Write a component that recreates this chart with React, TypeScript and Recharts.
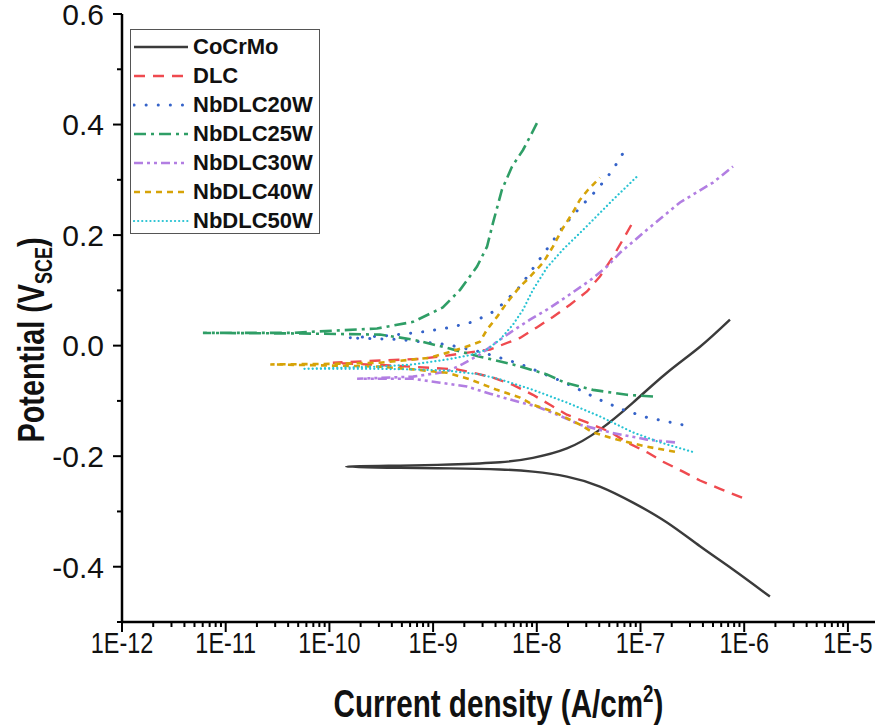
import { LineChart, Line, XAxis, YAxis, Legend } from 'recharts';

// Tafel polarisation curves: each array runs cathodic end -> Ecorr -> anodic end
const cocrmoCurrent = [1.77e-6, 7.8e-7, 3.75e-7, 1.8e-7, 8.47e-8, 4.06e-8, 1.95e-8, 9.18e-9, 4.42e-9, 1.46e-9, 4.8e-10, 1.45e-10, 4.8e-10, 1.46e-9, 4.42e-9, 9.18e-9, 1.95e-8, 4.06e-8, 8.47e-8, 1.8e-7, 3.75e-7, 7.29e-7];
const cocrmoPotential = [-0.454, -0.405, -0.363, -0.32, -0.284, -0.255, -0.237, -0.228, -0.224, -0.222, -0.221, -0.219, -0.217, -0.215, -0.211, -0.203, -0.186, -0.152, -0.103, -0.049, -0.002, 0.047];

const dlcCurrent = [9.53e-7, 5.85e-7, 3.75e-7, 2.57e-7, 1.65e-7, 1.16e-7, 7.41e-8, 5.08e-8, 3.05e-8, 1.95e-8, 1.34e-8, 9.18e-9, 5.89e-9, 3.78e-9, 2.43e-9, 1.7e-9, 9.33e-10, 3.84e-10, 1.08e-10, 3.08e-10, 7.48e-10, 1.36e-9, 3.54e-9, 6.89e-9, 1.0e-8, 1.43e-8, 2.09e-8, 3.05e-8, 4.06e-8, 5.43e-8, 6.78e-8, 8.47e-8];
const dlcPotential = [-0.275, -0.259, -0.244, -0.228, -0.21, -0.193, -0.175, -0.156, -0.139, -0.125, -0.107, -0.089, -0.071, -0.058, -0.049, -0.043, -0.04, -0.036, -0.031, -0.027, -0.024, -0.018, -0.007, 0.014, 0.033, 0.052, 0.074, 0.098, 0.125, 0.161, 0.192, 0.224];

const nb20Current = [2.51e-7, 1.16e-7, 6.78e-8, 4.06e-8, 1.87e-8, 6.89e-9, 2.83e-9, 1.36e-9, 4.8e-10, 1.51e-10, 3.59e-10, 8.0e-10, 1.46e-9, 2.43e-9, 3.78e-9, 4.72e-9, 6.89e-9, 8.59e-9, 1.15e-8, 1.79e-8, 2.61e-8, 3.8e-8, 5.31e-8, 6.93e-8];
const nb20Potential = [-0.143, -0.13, -0.116, -0.098, -0.067, -0.033, -0.011, 0.002, 0.011, 0.014, 0.018, 0.025, 0.033, 0.043, 0.061, 0.076, 0.107, 0.132, 0.165, 0.215, 0.25, 0.282, 0.316, 0.351];

const nb25Current = [1.32e-7, 7.41e-8, 3.48e-8, 1.87e-8, 1.25e-8, 5.89e-9, 2.83e-9, 1.36e-9, 6.4e-10, 3.08e-10, 5.25e-11, 6.03e-12, 4.17e-11, 2.88e-10, 6.4e-10, 1.24e-9, 1.82e-9, 2.65e-9, 3.31e-9, 3.78e-9, 4.61e-9, 5.77e-9, 7.36e-9, 8.99e-9, 1.03e-8];
const nb25Potential = [-0.092, -0.089, -0.08, -0.067, -0.052, -0.034, -0.02, -0.004, 0.011, 0.02, 0.022, 0.023, 0.023, 0.031, 0.043, 0.069, 0.101, 0.143, 0.179, 0.222, 0.282, 0.324, 0.354, 0.385, 0.407];

const nb30Current = [2.15e-7, 1.16e-7, 5.08e-8, 2.61e-8, 1.67e-8, 1.0e-8, 5.89e-9, 3.54e-9, 2.12e-9, 1.17e-9, 6.4e-10, 3.08e-10, 1.85e-10, 6.4e-10, 1.36e-9, 1.94e-9, 2.83e-9, 4.13e-9, 5.89e-9, 8.59e-9, 1.25e-8, 1.95e-8, 3.26e-8, 4.75e-8, 6.34e-8, 1.16e-7, 2.4e-7, 5.0e-7, 7.8e-7];
const nb30Potential = [-0.175, -0.17, -0.157, -0.143, -0.127, -0.11, -0.099, -0.087, -0.074, -0.067, -0.06, -0.06, -0.06, -0.056, -0.047, -0.033, -0.016, 0.007, 0.027, 0.047, 0.065, 0.089, 0.118, 0.143, 0.168, 0.21, 0.259, 0.295, 0.324];

const nb40Current = [2.15e-7, 1.16e-7, 5.93e-8, 3.48e-8, 2.61e-8, 1.43e-8, 9.18e-9, 6.89e-9, 4.13e-9, 2.27e-9, 1.36e-9, 6.4e-10, 3.08e-10, 1.01e-10, 2.69e-11, 1.01e-10, 3.08e-10, 9.33e-10, 1.94e-9, 2.83e-9, 3.31e-9, 4.13e-9, 5.16e-9, 6.89e-9, 8.04e-9, 1.15e-8, 1.43e-8, 1.75e-8, 2.23e-8, 2.61e-8, 3.12e-8, 4.06e-8];
const nb40Potential = [-0.192, -0.183, -0.17, -0.157, -0.143, -0.119, -0.107, -0.094, -0.08, -0.061, -0.049, -0.043, -0.038, -0.036, -0.034, -0.033, -0.031, -0.022, -0.004, 0.007, 0.029, 0.052, 0.078, 0.107, 0.119, 0.15, 0.179, 0.21, 0.241, 0.264, 0.282, 0.304];

const nb50Current = [3.14e-7, 1.54e-7, 8.47e-8, 4.06e-8, 1.95e-8, 9.18e-9, 4.42e-9, 2.83e-9, 1.36e-9, 6.4e-10, 3.08e-10, 5.5e-11, 3.08e-10, 6.4e-10, 1.36e-9, 2.43e-9, 3.31e-9, 4.42e-9, 5.89e-9, 7.36e-9, 9.18e-9, 1.25e-8, 1.79e-8, 2.61e-8, 3.26e-8, 5.43e-8, 9.25e-8];
const nb50Potential = [-0.192, -0.175, -0.157, -0.128, -0.103, -0.08, -0.061, -0.052, -0.045, -0.043, -0.042, -0.042, -0.038, -0.034, -0.025, -0.016, -0.007, 0.011, 0.038, 0.065, 0.101, 0.141, 0.174, 0.204, 0.222, 0.264, 0.306];

const decades = [1e-12, 1e-11, 1e-10, 1e-9, 1e-8, 1e-7, 1e-6, 1e-5];
const potentialMajor = [-0.4, -0.2, 0, 0.2, 0.4, 0.6];
const potentialMinor = [-0.5, -0.3, -0.1, 0.1, 0.3, 0.5];

const FONT = '"Liberation Sans", Arial, Helvetica, sans-serif';
const NARROW = 0.78; // the x labels and axis titles use a condensed face

const currentTicks = decades.flatMap((d, i) =>
  i < decades.length - 1 ? [d, 2, 3, 4, 5, 6, 7, 8, 9].map((k, j) => (j === 0 ? d : k * d)) : [d],
);
const potentialTicks = [...potentialMinor, ...potentialMajor].sort((a, b) => a - b);

const isDecade = (v: number) => Math.abs(Math.log10(v) - Math.round(Math.log10(v))) < 1e-6;
const isMajorPotential = (v: number) => potentialMajor.some((m) => Math.abs(m - v) < 1e-6);

const toPoints = (current: number[], potential: number[]) =>
  current.map((i, k) => ({ i, e: potential[k] }));

const series = [
  { name: 'CoCrMo', data: toPoints(cocrmoCurrent, cocrmoPotential), color: '#3b3b3b', dash: undefined, cap: 'butt', width: 2.4, curve: 'natural' },
  { name: 'DLC', data: toPoints(dlcCurrent, dlcPotential), color: '#ef4a4f', dash: '11 8', cap: 'butt', width: 2.4, curve: 'linear' },
  { name: 'NbDLC20W', data: toPoints(nb20Current, nb20Potential), color: '#3563c9', dash: '0.1 12', cap: 'round', width: 3, curve: 'linear' },
  { name: 'NbDLC25W', data: toPoints(nb25Current, nb25Potential), color: '#2f9e66', dash: '12 5 3 5', cap: 'butt', width: 2.6, curve: 'linear' },
  { name: 'NbDLC30W', data: toPoints(nb30Current, nb30Potential), color: '#b27ee2', dash: '9 4 3 4 3 4', cap: 'butt', width: 2.6, curve: 'linear' },
  { name: 'NbDLC40W', data: toPoints(nb40Current, nb40Potential), color: '#d6a308', dash: '6 5', cap: 'butt', width: 2.6, curve: 'linear' },
  { name: 'NbDLC50W', data: toPoints(nb50Current, nb50Potential), color: '#27c3d3', dash: '0.1 4', cap: 'round', width: 2.2, curve: 'linear' },
];

function CurrentTick(props: any) {
  const { x, y, payload } = props;
  const major = isDecade(payload.value);
  return (
    <g>
      <line x1={x} x2={x} y1={y} y2={y + (major ? 10 : 5)} stroke="#000" strokeWidth={2} />
      {major && (
        <text
          transform={`translate(${x},${y + 31}) scale(${NARROW},1)`}
          textAnchor="middle"
          fontSize={30}
          fontFamily={FONT}
          fill="#111"
        >
          {`1E${Math.round(Math.log10(payload.value))}`}
        </text>
      )}
    </g>
  );
}

function PotentialTick(props: any) {
  const { x, y, payload } = props;
  const major = isMajorPotential(payload.value);
  return (
    <g>
      <line x1={x} x2={x - (major ? 9 : 5)} y1={y} y2={y} stroke="#000" strokeWidth={2} />
      {major && (
        <text x={x - 18} y={y} dy="0.36em" textAnchor="end" fontSize={30} fontFamily={FONT} fill="#111">
          {payload.value.toFixed(1)}
        </text>
      )}
    </g>
  );
}

function XTitle({ viewBox }: any) {
  const cx = viewBox.x + viewBox.width / 2;
  const cy = viewBox.y + 95;
  return (
    <text transform={`translate(${cx},${cy}) scale(${NARROW},1)`} textAnchor="middle" fontSize={38} fontWeight="bold" fontFamily={FONT} fill="#111">
      Current density (A/cm
      <tspan fontSize={24} dy={-15}>2</tspan>
      <tspan dy={15}>)</tspan>
    </text>
  );
}

function YTitle({ viewBox }: any) {
  const cx = viewBox.x + 31;
  const cy = viewBox.y + viewBox.height / 2 + 22;
  return (
    <text
      transform={`translate(${cx},${cy}) rotate(-90) scale(${NARROW},1)`}
      textAnchor="middle"
      dy="0.36em"
      fontSize={37}
      fontWeight="bold"
      fontFamily={FONT}
      fill="#111"
    >
      Potential (V
      <tspan fontSize={23} dy={8}>SCE</tspan>
      <tspan dy={-8}>)</tspan>
    </text>
  );
}

function LegendBox() {
  return (
    <div
      style={{
        width: 190,
        height: 205,
        boxSizing: 'border-box',
        border: '1.5px solid #555',
        background: '#fff',
        paddingTop: 2,
        fontFamily: FONT,
      }}
    >
      {series.map((s) => (
        <div key={s.name} style={{ height: 29, display: 'flex', alignItems: 'center' }}>
          <svg width={58} height={10} style={{ marginLeft: 2 }}>
            <line x1={1} x2={55} y1={5} y2={5} stroke={s.color} strokeWidth={s.width} strokeDasharray={s.dash} strokeLinecap={s.cap as any} />
          </svg>
          <span style={{ marginLeft: 2, fontSize: 22, fontWeight: 'bold', color: '#111' }}>{s.name}</span>
        </div>
      ))}
    </div>
  );
}

export default function App() {
  return (
    <div style={{ position: 'absolute', left: 0, top: 0, width: 877, height: 727, background: '#fff' }}>
      <LineChart width={877} height={727} margin={{ top: 14, right: 2, left: 0, bottom: 0 }}>
        <XAxis
          dataKey="i"
          type="number"
          scale="log"
          domain={[1e-12, 1.825e-5]}
          allowDataOverflow
          ticks={currentTicks}
          interval={0}
          height={105}
          tickSize={0}
          tickMargin={0}
          tickLine={false}
          tick={<CurrentTick />}
          axisLine={{ stroke: '#000', strokeWidth: 2.5 }}
          label={{ content: (p: any) => <XTitle viewBox={p.viewBox} /> }}
        />
        <XAxis xAxisId="top" orientation="top" type="number" dataKey="i" scale="log" domain={[1e-12, 1.825e-5]} allowDataOverflow height={0} tick={false} tickLine={false} axisLine={{ stroke: '#000', strokeWidth: 2.5 }} />
        <YAxis
          type="number"
          domain={[-0.5, 0.6]}
          allowDataOverflow
          ticks={potentialTicks}
          interval={0}
          width={122}
          tickSize={0}
          tickMargin={0}
          tickLine={false}
          tick={<PotentialTick />}
          axisLine={{ stroke: '#000', strokeWidth: 2.5 }}
          label={{ content: (p: any) => <YTitle viewBox={p.viewBox} /> }}
        />
        <YAxis yAxisId="right" orientation="right" type="number" domain={[-0.5, 0.6]} width={0} tick={false} tickLine={false} axisLine={{ stroke: '#222', strokeWidth: 1.5 }} />
        <Legend
          layout="vertical"
          align="center"
          verticalAlign="middle"
          wrapperStyle={{ top: 29, left: 130, width: 190 }}
          content={() => <LegendBox />}
        />
        {series.map((s) => (
          <Line
            key={s.name}
            data={s.data}
            dataKey="e"
            name={s.name}
            type={s.curve as any}
            stroke={s.color}
            strokeWidth={s.width}
            strokeDasharray={s.dash}
            strokeLinecap={s.cap as any}
            dot={false}
            isAnimationActive={false}
          />
        ))}
      </LineChart>
    </div>
  );
}
